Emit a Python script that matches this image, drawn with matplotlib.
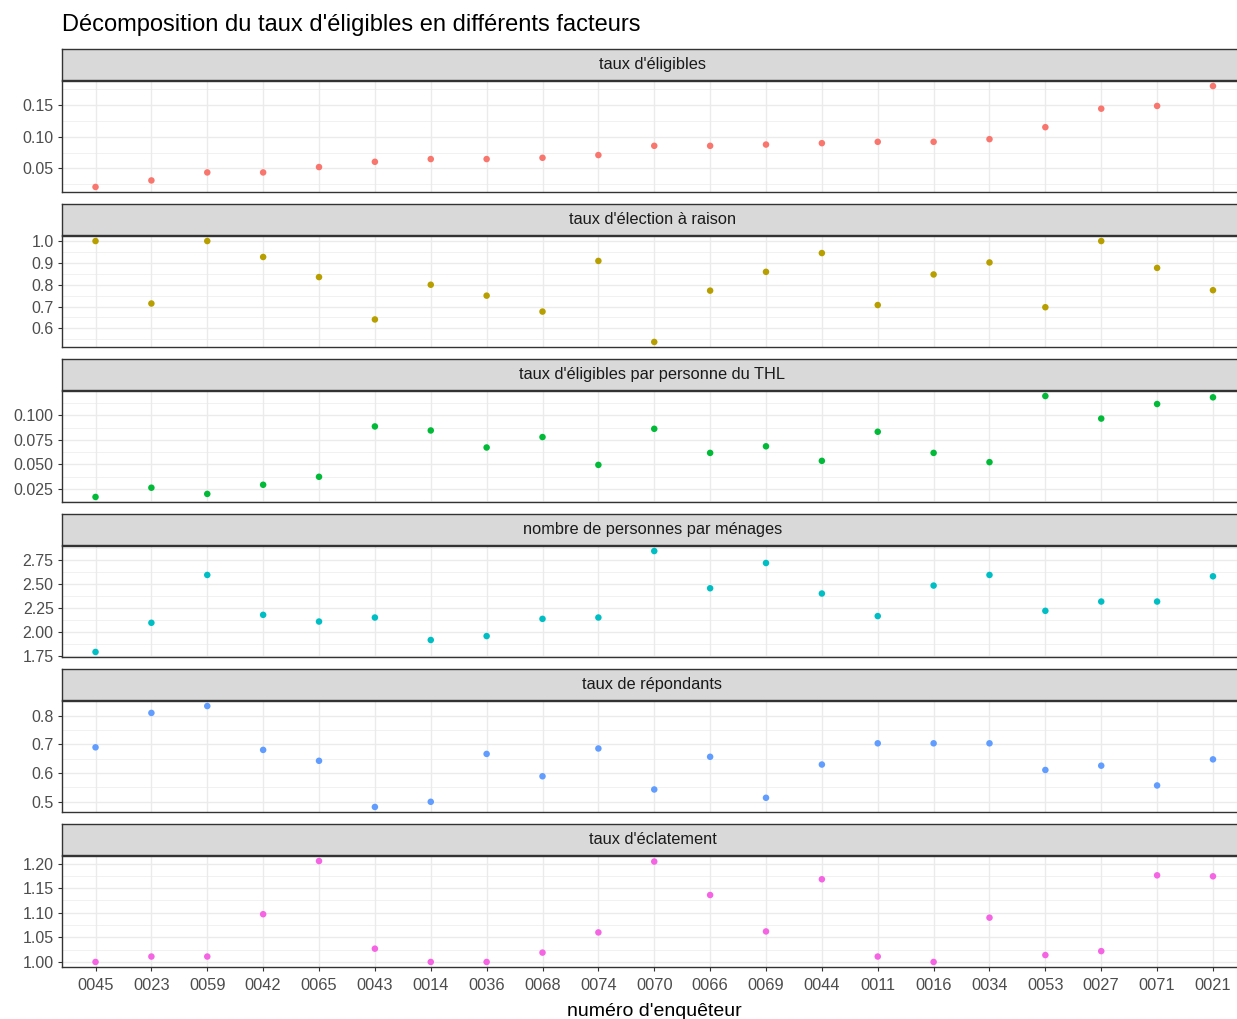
import matplotlib.pyplot as plt
from matplotlib.ticker import MultipleLocator, FormatStrFormatter

plt.rcParams['font.family'] = ['Liberation Sans', 'DejaVu Sans']

enqueteurs = ['0045', '0023', '0059', '0042', '0065', '0043', '0014', '0036', '0068', '0074', '0070',
              '0066', '0069', '0044', '0011', '0016', '0034', '0053', '0027', '0071', '0021']

taux_eligibles = [0.0208, 0.0311, 0.0437, 0.0437, 0.0522, 0.0605, 0.0648, 0.0648, 0.0668, 0.0711, 0.0857,
                  0.0857, 0.0877, 0.0899, 0.0920, 0.0920, 0.0962, 0.1151, 0.1443, 0.1486, 0.1800]
taux_election = [1.0, 0.714, 1.0, 0.927, 0.835, 0.641, 0.800, 0.750, 0.677, 0.909, 0.538,
                 0.773, 0.859, 0.945, 0.707, 0.847, 0.902, 0.697, 1.0, 0.877, 0.775]
eligibles_par_pers = [0.0169, 0.0263, 0.0200, 0.0293, 0.0374, 0.0886, 0.0845, 0.0672, 0.0778, 0.0495, 0.0862,
                      0.0617, 0.0684, 0.0536, 0.0832, 0.0617, 0.0523, 0.1195, 0.0966, 0.1114, 0.1182]
pers_par_menage = [1.792, 2.097, 2.597, 2.180, 2.110, 2.152, 1.917, 1.958, 2.138, 2.152, 2.847,
                   2.458, 2.722, 2.403, 2.167, 2.486, 2.597, 2.222, 2.319, 2.319, 2.583]
taux_repondants = [0.690, 0.810, 0.834, 0.681, 0.643, 0.482, 0.500, 0.667, 0.589, 0.686, 0.543,
                   0.657, 0.514, 0.630, 0.704, 0.704, 0.704, 0.611, 0.626, 0.557, 0.648]
taux_eclatement = [1.000, 1.011, 1.011, 1.097, 1.205, 1.027, 1.000, 1.000, 1.019, 1.060, 1.204,
                   1.136, 1.062, 1.168, 1.011, 1.000, 1.090, 1.014, 1.022, 1.176, 1.174]

facettes = ["taux d'éligibles", "taux d'élection à raison", "taux d'éligibles par personne du THL",
            "nombre de personnes par ménages", "taux de répondants", "taux d'éclatement"]
series = [taux_eligibles, taux_election, eligibles_par_pers, pers_par_menage, taux_repondants, taux_eclatement]
couleurs = ['#F8766D', '#B79F00', '#00BA38', '#00BFC4', '#619CFF', '#F564E3']
pas = [0.05, 0.1, 0.025, 0.25, 0.1, 0.05]
formats = ['%.2f', '%.1f', '%.3f', '%.2f', '%.1f', '%.2f']

W, H = 1237, 1019
fig = plt.figure(figsize=(W / 100, H / 100), dpi=100)


def px(x0, y0, x1, y1):
    return [x0 / W, 1 - y1 / H, (x1 - x0) / W, (y1 - y0) / H]


left, right = 62, 1246.5
x = list(range(len(enqueteurs)))

for i, (nom, vals) in enumerate(zip(facettes, series)):
    top = 49 + 155 * i
    # bandeau de la facette
    sax = fig.add_axes(px(left, top, right, top + 31))
    sax.set_facecolor('#D9D9D9')
    sax.set_xticks([])
    sax.set_yticks([])
    for s in sax.spines.values():
        s.set_color('#333333')
        s.set_linewidth(1.0)
    sax.text(0.4985, 0.5, nom, transform=sax.transAxes, ha='center', va='center',
             fontsize=11.8, color='#1A1A1A')

    ax = fig.add_axes(px(left, top + 32, right, top + 143))
    ax.scatter(x, vals, s=22, color=couleurs[i], edgecolors='none', zorder=3)
    ax.set_xlim(-0.6, len(enqueteurs) - 0.4)
    ax.yaxis.set_major_locator(MultipleLocator(pas[i]))
    ax.yaxis.set_minor_locator(MultipleLocator(pas[i] / 2))
    ax.yaxis.set_major_formatter(FormatStrFormatter(formats[i]))
    ax.set_xticks(x)
    ax.grid(True, which='major', color='#EBEBEB', linewidth=1.0, zorder=0)
    ax.grid(True, which='minor', axis='y', color='#EBEBEB', linewidth=0.5, zorder=0)
    ax.set_axisbelow(True)
    for s in ax.spines.values():
        s.set_color('#333333')
        s.set_linewidth(1.0)
    ax.tick_params(axis='y', which='major', length=3, color='#333333', labelsize=11.5,
                   labelcolor='#4D4D4D', pad=3)
    ax.tick_params(axis='y', which='minor', length=0)
    if i == len(facettes) - 1:
        ax.set_xticklabels(enqueteurs)
        ax.tick_params(axis='x', length=3, color='#333333', labelsize=11.8,
                       labelcolor='#4D4D4D', pad=5)
        ax.set_xlabel("numéro d'enquêteur", fontsize=14, color='black', labelpad=7)
    else:
        ax.tick_params(axis='x', length=0, labelbottom=False)

fig.text(62 / W, 1 - 25 / H, "Décomposition du taux d'éligibles en différents facteurs",
         ha='left', va='center', fontsize=17, color='black')

fig.savefig('out.png', dpi=100)
